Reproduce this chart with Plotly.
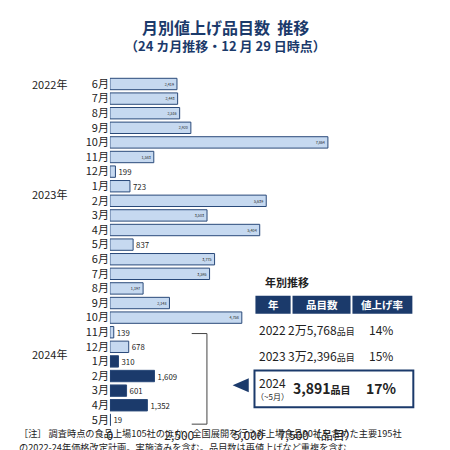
import plotly.graph_objects as go

months = ["6月", "7月", "8月", "9月", "10月", "11月", "12月",
          "1月", "2月", "3月", "4月", "5月", "6月", "7月", "8月", "9月", "10月", "11月", "12月",
          "1月", "2月", "3月", "4月", "5月"]
years = [2022] * 7 + [2023] * 12 + [2024] * 5
counts = [2419, 2443, 2516, 2920, 7864, 1583, 199,
          723, 5639, 3503, 5404, 837, 3775, 3595, 1197, 2148, 4758, 139, 678,
          310, 1609, 601, 1352, 19]

tbl_years = ["2022", "2023"]
tbl_items = ["2万5,768<span style='font-size:9px'>品目</span>", "3万2,396<span style='font-size:9px'>品目</span>"]
tbl_rates = ["14%", "15%"]

W = H = 450
NAVY = "#1b3a6b"
FONT = "Noto Sans CJK JP"


def px(x):
    return x / W


def py(y):
    return 1 - y / H


ylab = [f"{i}" for i in range(len(counts))]
colors = [NAVY if y == 2024 else "#c6d9f0" for y in years]
pos = ["inside" if (y < 2024 and c > 1000) else "outside" for y, c in zip(years, counts)]

fig = go.Figure(go.Bar(
    x=counts, y=ylab, orientation="h",
    marker=dict(color=colors, line=dict(color="#2a4a7a", width=1)),
    text=[f"{c:,}" for c in counts], textposition=pos, insidetextanchor="end",
    textfont=dict(color="#222", size=11, family=FONT),
    outsidetextfont=dict(color="#222", size=11, family=FONT),
    width=0.78, cliponaxis=False,
))

fig.update_layout(
    width=W, height=H, margin=dict(l=0, r=0, t=0, b=0),
    plot_bgcolor="white", paper_bgcolor="white", showlegend=False,
    font=dict(family=FONT, color="#222"),
    xaxis=dict(domain=[px(104), px(343)], range=[0, 8200], tickvals=[0, 2500, 5000, 7500],
               ticktext=["0", "2,500", "5,000", "7,500（品目）"], showgrid=False,
               zeroline=False, showline=False, tickfont=dict(size=12), ticks=""),
    yaxis=dict(domain=[py(419), py(67)], autorange="reversed", tickvals=ylab, ticktext=months,
               showgrid=False, showline=False, tickfont=dict(size=11), ticks="", ticklen=0),
)

ann = []
shp = []


def text(x, y, s, size=11, anchor="center", bold=False, color="#222"):
    if bold:
        s = f"<b>{s}</b>"
    ann.append(dict(x=px(x), y=py(y), xref="paper", yref="paper", text=s, showarrow=False,
                    xanchor=anchor, yanchor="middle", font=dict(size=size, color=color, family=FONT)))


text(225, 17, "月別値上げ品目数  推移", 16, bold=True, color=NAVY)
text(225, 36, "（24 カ月推移・12 月 29 日時点）", 13, bold=True, color=NAVY)
for yl, yy in [(74, "2022年"), (185, "2023年"), (346, "2024年")]:
    text(20, yl, yy, 11, anchor="left")

# bracket + pointer
shp.append(dict(type="path", xref="paper", yref="paper",
                path=f"M{px(190)},{py(325)} L{px(206)},{py(325)} L{px(206)},{py(416)} L{px(190)},{py(416)}",
                line=dict(color="#444", width=1)))
shp.append(dict(type="path", xref="paper", yref="paper",
                path=f"M{px(233)},{py(377)} L{px(250)},{py(370)} L{px(250)},{py(384)} Z",
                fillcolor=NAVY, line=dict(width=0)))

# table
text(265, 273, "年別推移", 11, anchor="left", bold=True)
for x0, x1, lab in [(257, 294, "年"), (296, 357, "品目数"), (359, 422, "値上げ率")]:
    shp.append(dict(type="rect", xref="paper", yref="paper", x0=px(x0), x1=px(x1),
                    y0=py(305), y1=py(287), fillcolor=NAVY, line=dict(width=0)))
    text((x0 + x1) / 2, 296, lab, 10.5, bold=True, color="white")
for i, (yr, it, rt) in enumerate(zip(tbl_years, tbl_items, tbl_rates)):
    yy = 321 + 26 * i
    text(275, yy, yr, 12)
    text(326, yy, it, 12)
    text(389, yy, rt, 12)
shp.append(dict(type="rect", xref="paper", yref="paper", x0=px(256), x1=px(423),
                y0=py(399), y1=py(362), line=dict(color=NAVY, width=2)))
text(275, 374, "2024", 12)
text(275, 388, "（~5月）", 8)
text(327, 380, "3,891<span style='font-size:10px'>品目</span>", 14, bold=True)
text(390, 380, "17%", 14, bold=True)

text(6, 425, "［注］ 調査時点の食品上場105社のほか、全国展開を行う非上場食品90社を含めた主要195社", 9.2, anchor="left")
text(6, 439, "の2022-24年価格改定計画。実施済みを含む。品目数は再値上げなど重複を含む", 9.2, anchor="left")

fig.update_layout(annotations=ann, shapes=shp)
fig.write_html("out.html")
